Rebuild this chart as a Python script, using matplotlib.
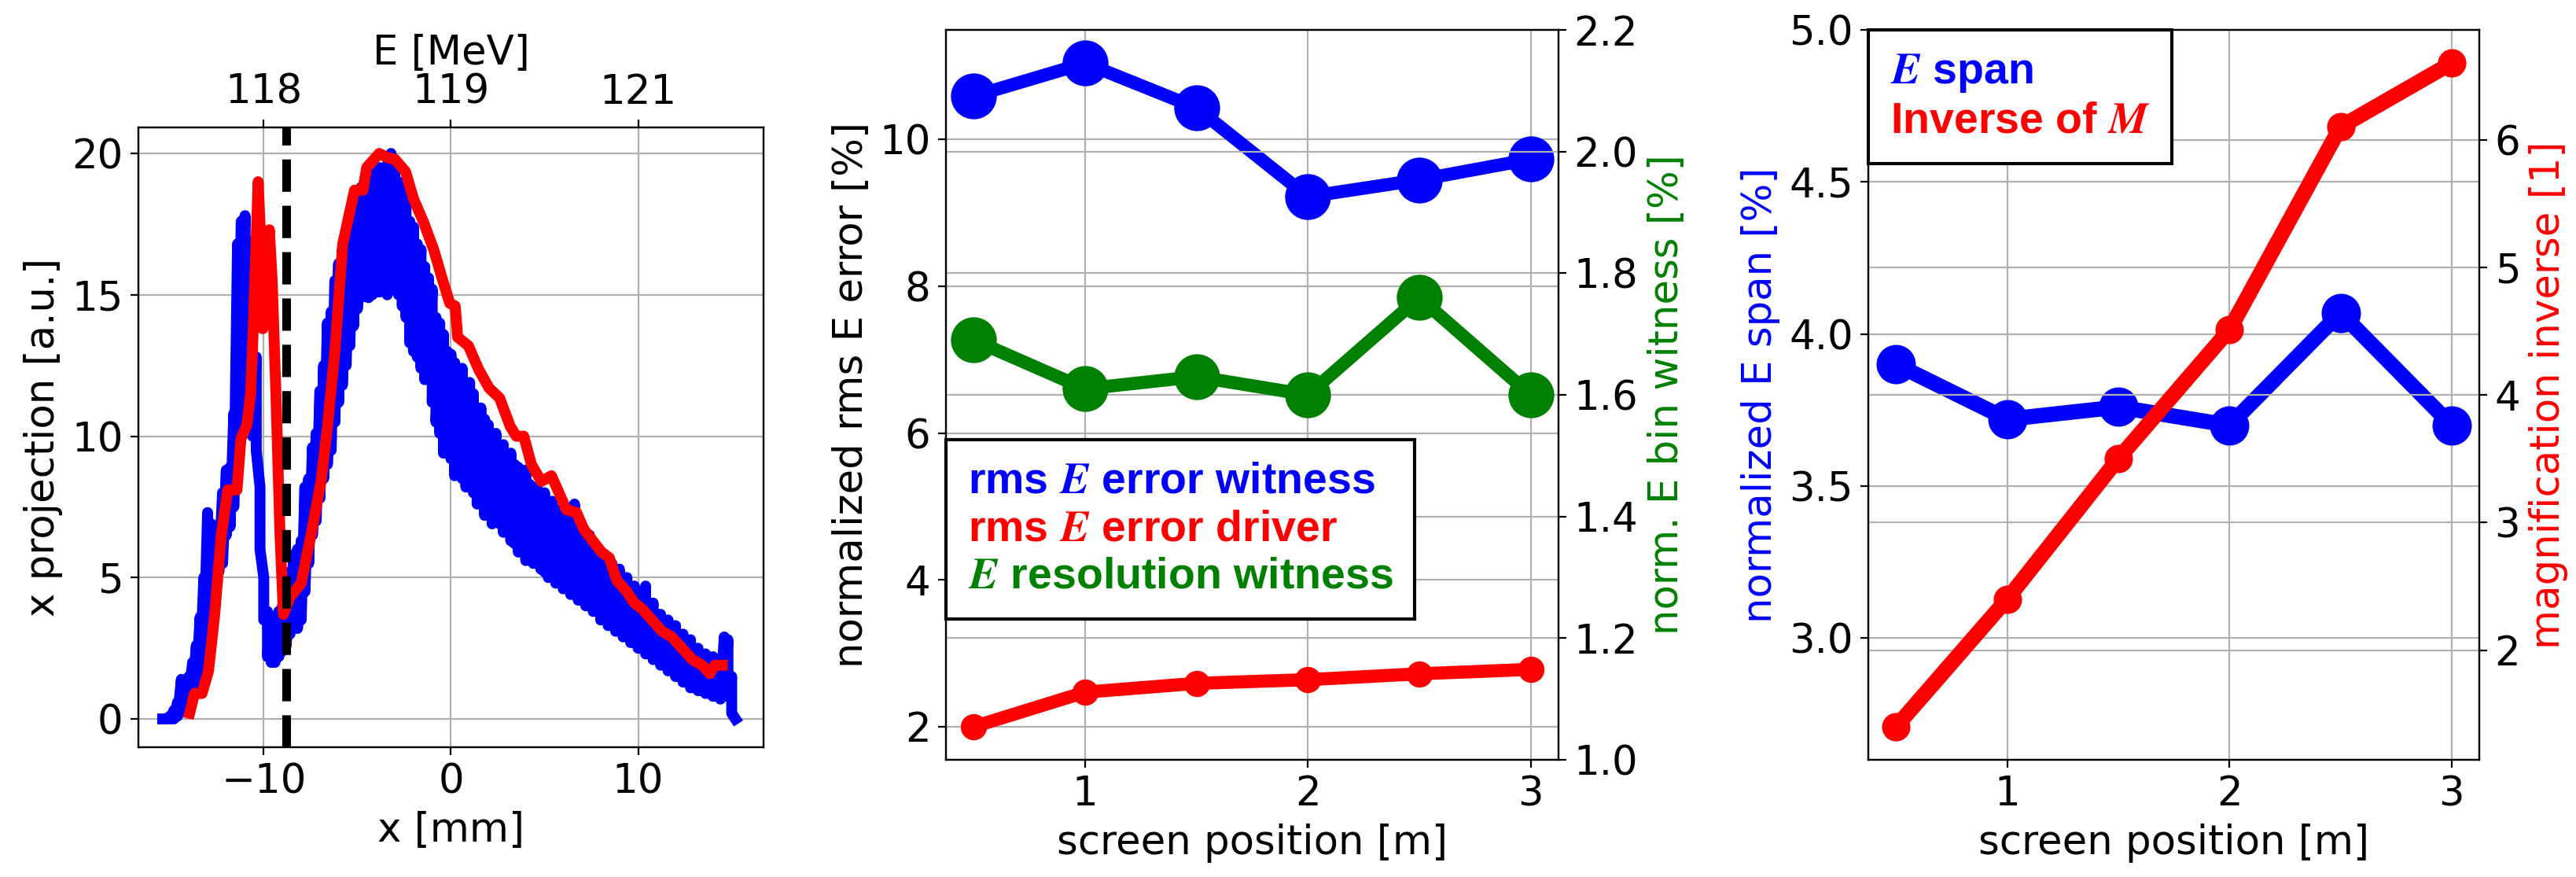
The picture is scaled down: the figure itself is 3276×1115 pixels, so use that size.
import matplotlib

matplotlib.use("Agg")
import matplotlib.pyplot as plt
import numpy as np

plt.rcParams["font.family"] = "DejaVu Sans"
plt.rcParams["font.size"] = 18.5
plt.rcParams["mathtext.fontset"] = "stix"

# --- left panel: x projection of the spectrometer screen ---
blue_x = [
    -15.4, -15.2, -15.0, -14.8, -14.6, -14.4, -14.2, -14.0, -13.8, -13.6,
    -13.4, -13.2, -13.0, -12.8, -12.6, -12.4, -12.2, -12.0, -11.8, -11.6,
    -11.4, -11.2, -11.0, -10.8, -10.6, -10.4, -10.2, -10.0, -9.8, -9.6,
    -9.4, -9.2, -9.0, -8.8, -8.6, -8.4, -8.2, -8.0, -7.8, -7.6,
    -7.4, -7.2, -7.0, -6.8, -6.6, -6.4, -6.2, -6.0, -5.8, -5.6,
    -5.4, -5.2, -5.0, -4.8, -4.6, -4.4, -4.2, -4.0, -3.8, -3.6,
    -3.4, -3.2, -3.0, -2.8, -2.6, -2.4, -2.2, -2.0, -1.8, -1.6,
    -1.4, -1.2, -1.0, -0.8, -0.6, -0.4, -0.2, 0.0, 0.2, 0.4,
    0.6, 0.8, 1.0, 1.2, 1.4, 1.6, 1.8, 2.0, 2.2, 2.4,
    2.6, 2.8, 3.0, 3.2, 3.4, 3.6, 3.8, 4.0, 4.2, 4.4,
    4.6, 4.8, 5.0, 5.2, 5.4, 5.6, 5.8, 6.0, 6.2, 6.4,
    6.6, 6.8, 7.0, 7.2, 7.4, 7.6, 7.8, 8.0, 8.2, 8.4,
    8.6, 8.8, 9.0, 9.2, 9.4, 9.6, 9.8, 10.0, 10.2, 10.4,
    10.6, 10.8, 11.0, 11.2, 11.4, 11.6, 11.8, 12.0, 12.2, 12.4,
    12.6, 12.8, 13.0, 13.2, 13.4, 13.6, 13.8, 14.0, 14.2, 14.4,
    14.6, 14.8, 15.0, 15.2,
]
# noisy measured profile: upper and lower swing at each sample
blue_hi = [
    0.0, 0.0, 0.1, 0.3, 0.6, 1.4, 1.2, 1.5, 2.0, 2.6,
    3.6, 5.0, 7.3, 6.9, 6.8, 6.6, 8.0, 8.8, 8.9, 10.8,
    16.8, 17.6, 17.8, 16.9, 14.2, 12.8, 8.2, 5.0, 3.8, 3.5,
    3.4, 3.8, 4.0, 4.6, 5.2, 5.8, 6.0, 6.3, 8.2, 8.5,
    9.6, 10.1, 11.6, 12.5, 14.0, 14.4, 15.5, 16.1, 16.6, 17.1,
    17.8, 18.5, 18.7, 18.8, 19.1, 19.2, 19.3, 19.3, 19.5, 19.3,
    19.6, 20.0, 19.6, 19.0, 18.7, 18.2, 17.6, 17.4, 16.8, 16.6,
    16.0, 15.6, 15.2, 14.2, 14.0, 13.6, 13.0, 12.9, 12.6, 12.2,
    12.4, 11.8, 11.9, 11.5, 10.9, 11.0, 10.6, 10.4, 10.0, 10.1,
    9.6, 9.7, 9.3, 9.4, 9.0, 8.9, 8.6, 8.8, 8.3, 8.2,
    8.2, 7.9, 8.0, 7.6, 7.7, 7.4, 7.4, 7.1, 7.0, 7.1,
    7.6, 6.8, 6.7, 6.4, 6.5, 6.1, 6.0, 5.9, 5.6, 5.6,
    5.5, 5.2, 5.3, 4.9, 5.0, 4.6, 4.7, 4.4, 4.5, 4.7,
    4.1, 4.1, 3.7, 3.7, 3.4, 3.5, 3.2, 3.3, 2.9, 3.0,
    2.7, 2.8, 2.4, 2.5, 2.2, 2.3, 2.1, 2.2, 1.9, 2.1,
    2.9, 2.8, 1.5, 0.0,
]
blue_lo = [
    0.0, 0.0, 0.0, 0.0, 0.1, 0.3, 0.5, 0.8, 1.0, 1.3,
    1.8, 2.5, 4.2, 4.5, 5.0, 5.2, 5.5, 6.5, 6.8, 7.5,
    9.5, 10.5, 10.8, 10.5, 10.0, 9.5, 6.0, 3.5, 2.2, 2.0,
    2.0, 2.2, 2.4, 2.6, 3.0, 3.2, 3.2, 3.5, 4.5, 5.5,
    6.5, 7.0, 7.8, 8.5, 9.0, 9.5, 10.5, 11.2, 11.8, 12.5,
    13.2, 13.9, 14.5, 14.9, 15.0, 14.9, 15.0, 15.1, 15.1, 15.2,
    15.0, 15.2, 15.5, 15.0, 14.6, 14.2, 13.3, 13.0, 12.8, 12.4,
    12.0, 12.0, 11.2, 10.5, 10.1, 9.4, 9.8, 9.2, 8.6, 8.8,
    8.5, 8.2, 8.4, 8.0, 7.6, 7.8, 7.2, 7.3, 6.9, 7.0,
    6.9, 6.6, 6.7, 6.3, 6.2, 5.9, 5.9, 5.6, 5.7, 5.5,
    5.5, 5.3, 5.2, 5.0, 5.0, 4.8, 4.8, 4.6, 4.6, 4.4,
    4.4, 4.2, 4.2, 4.0, 4.0, 3.8, 3.8, 3.5, 3.5, 3.3,
    3.3, 3.1, 3.1, 2.9, 2.9, 2.7, 2.7, 2.5, 2.5, 2.3,
    2.3, 2.1, 2.1, 1.9, 1.9, 1.7, 1.7, 1.5, 1.5, 1.3,
    1.3, 1.1, 1.2, 1.0, 1.0, 0.9, 0.9, 0.8, 0.8, 0.7,
    1.0, 0.8, 0.2, 0.0,
]

red_x = [
    -13.96, -13.7, -13.3, -12.95, -12.62, -12.27, -11.92, -11.43, -11.22, -10.9,
    -10.7, -10.55, -10.3, -10.2, -10.05, -9.9, -9.7, -9.55, -9.35, -9.13,
    -8.95, -8.6, -8.0, -7.45, -6.94, -6.6, -6.2, -5.78, -5.15, -4.7,
    -4.5, -3.83, -3.4, -3.0, -2.42, -2.0, -1.45, -0.9, -0.48, -0.06,
    0.23, 0.36, 0.93, 1.49, 2.04, 2.6, 3.16, 3.49, 3.89, 4.3,
    4.83, 5.37, 5.77, 6.17, 6.71, 7.11, 7.52, 8.05, 8.46, 8.86,
    9.4, 9.8, 10.2, 10.74, 11.28, 11.8, 12.35, 12.89, 13.42, 13.83,
    14.1, 14.5,
]
red_y = [
    0.2, 0.9, 0.9, 1.7, 3.7, 6.5, 8.1, 8.1, 9.9, 10.4,
    11.5, 14.0, 19.0, 17.5, 13.8, 15.7, 17.3, 15.5, 11.5, 6.5,
    3.7, 4.3, 4.8, 6.6, 8.4, 10.3, 13.0, 16.8, 18.7, 18.7,
    19.5, 20.0, 19.85, 19.8, 19.35, 18.4, 17.55, 16.56, 15.6, 14.7,
    14.6, 13.5, 13.2, 12.35, 11.7, 11.35, 10.36, 10.0, 10.0, 9.0,
    8.4, 8.6, 8.0, 7.4, 7.3, 6.7, 6.35, 5.9, 5.7, 4.9,
    4.5, 4.1, 3.9, 3.5, 3.1, 2.9, 2.5, 2.1, 1.9, 1.6,
    1.9, 1.9,
]
cut_x = -8.78
e_tick_x = [-10, 0, 10]
e_tick_labels = ["118", "119", "121"]

# --- middle and right panels: vs screen position ---
screen_pos = [0.5, 1.0, 1.5, 2.0, 2.5, 3.0]
rms_err_witness = [10.59, 11.04, 10.43, 9.22, 9.45, 9.73]
rms_err_driver = [2.0, 2.47, 2.59, 2.64, 2.72, 2.78]
bin_witness = [1.69, 1.61, 1.63, 1.60, 1.76, 1.60]
e_span = [3.90, 3.72, 3.76, 3.70, 4.07, 3.70]
inv_magnification = [1.40, 2.40, 3.50, 4.51, 6.10, 6.60]

legend_font = {"family": "Liberation Sans", "weight": "bold", "size": 20}


def text_legend(ax, handles, labels, colors, **kwargs):
    leg = ax.legend(
        handles, labels, prop=legend_font, handlelength=0, handletextpad=0,
        borderpad=0.5, labelspacing=0.15, borderaxespad=0, fancybox=False,
        framealpha=1, edgecolor="black", **kwargs,
    )
    leg.get_frame().set_linewidth(1.5)
    for handle in leg.legend_handles:
        handle.set_visible(False)
    for text, color in zip(leg.get_texts(), colors):
        text.set_color(color)
    return leg


fig = plt.figure(figsize=(16.38, 5.575), dpi=200)

# left panel
ax1 = fig.add_axes([0.0537, 0.148, 0.2427, 0.7067])
zig_x = np.repeat(blue_x, 2)
zig_y = np.column_stack([blue_hi, blue_lo]).ravel()
ax1.plot(zig_x, zig_y, color="blue", lw=5)
ax1.plot(red_x, red_y, color="red", lw=5)
ax1.axvline(cut_x, color="black", ls="--", lw=4)
ax1.set_xlim(-16.7, 16.7)
ax1.set_ylim(-1.0, 20.92)
ax1.set_xticks([-10, 0, 10])
ax1.set_yticks([0, 5, 10, 15, 20])
ax1.grid(True)
ax1.set_xlabel("x [mm]")
ax1.set_ylabel("x projection [a.u.]")
ax1_top = ax1.twiny()
ax1_top.set_xlim(ax1.get_xlim())
ax1_top.set_xticks(e_tick_x)
ax1_top.set_xticklabels(e_tick_labels)
ax1_top.set_xlabel("E [MeV]")

# middle panel
ax2 = fig.add_axes([0.3672, 0.1336, 0.2378, 0.8323])
l_w, = ax2.plot(screen_pos, rms_err_witness, "o-", color="blue", lw=6, ms=20)
l_d, = ax2.plot(screen_pos, rms_err_driver, "o-", color="red", lw=6, ms=11)
ax2.set_xticks([1, 2, 3])
ax2.grid(True)
ax2.set_xlabel("screen position [m]")
ax2.set_ylabel("normalized rms E error [%]")
ax2r = ax2.twinx()
l_b, = ax2r.plot(screen_pos, bin_witness, "o-", color="green", lw=6, ms=20)
ax2r.set_ylim(1.0, 2.2)
ax2r.grid(True)
ax2r.set_ylabel("norm. E bin witness [%]", color="green")
text_legend(
    ax2r, [l_w, l_d, l_b],
    [r"rms $\mathbfit{E}$ error witness", r"rms $\mathbfit{E}$ error driver",
     r"$\mathbfit{E}$ resolution witness"],
    ["blue", "red", "green"],
    loc="upper left", bbox_to_anchor=(0.0, 0.4386),
)

# right panel
ax3 = fig.add_axes([0.7253, 0.1336, 0.2372, 0.8323])
l_s, = ax3.plot(screen_pos, e_span, "o-", color="blue", lw=7, ms=17)
ax3.set_ylim(2.6, 5.0)
ax3.set_xticks([1, 2, 3])
ax3.grid(True)
ax3.set_xlabel("screen position [m]")
ax3.set_ylabel("normalized E span [%]", color="blue")
ax3r = ax3.twinx()
l_m, = ax3r.plot(screen_pos, inv_magnification, "o-", color="red", lw=7, ms=12)
ax3r.grid(True)
ax3r.set_ylabel("magnification inverse [1]", color="red")
text_legend(
    ax3r, [l_s, l_m], [r"$\mathbfit{E}$ span", r"Inverse of $\mathbfit{M}$"],
    ["blue", "red"], loc="upper left", bbox_to_anchor=(0.0, 1.0),
)

fig.savefig("out.png", dpi=200)
